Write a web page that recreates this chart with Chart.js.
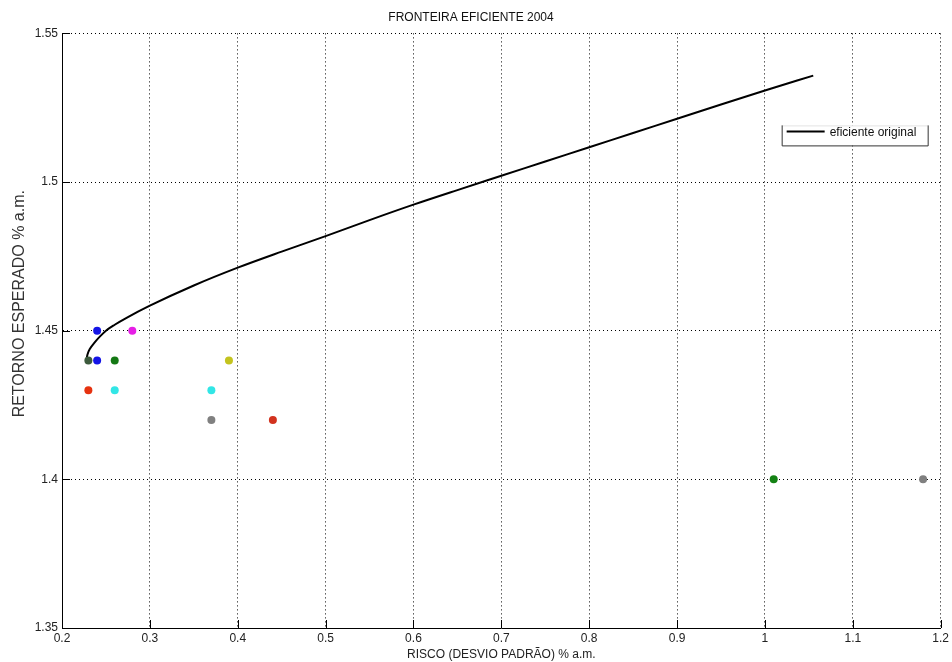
<!DOCTYPE html>
<html>
<head>
<meta charset="utf-8">
<title>Fronteira eficiente 2004</title>
<script src="https://cdn.jsdelivr.net/npm/chart.js@4.4.1/dist/chart.umd.min.js"></script>
<style>
    html, body { margin: 0; padding: 0; background: #fff; }
    #wrap { width: 952px; height: 662px; position: relative; }
</style>
</head>
<body>
<div id="wrap"><canvas id="frontierChart"></canvas></div>
<script>
// efficient frontier (risk, return)
const curveRisk   = [0.228, 0.229, 0.232, 0.237, 0.243, 0.250, 0.260, 0.274, 0.300, 0.350, 0.400, 0.450, 0.500, 0.550, 0.600, 0.650, 0.700, 0.750, 0.800, 0.850, 0.900, 0.950, 1.000, 1.055];
const curveReturn = [1.4405, 1.4420, 1.4440, 1.4460, 1.4480, 1.4500, 1.4520, 1.4544, 1.4584, 1.4652, 1.4712, 1.4766, 1.4818, 1.4872, 1.4924, 1.4973, 1.5021, 1.5069, 1.5117, 1.5165, 1.5213, 1.5261, 1.5308, 1.5358];

// individual assets
const assetRisk   = [0.24, 0.28, 0.24, 0.26, 0.39, 0.23, 0.26, 0.37, 0.37, 0.44, 1.01, 1.18, 0.23];
const assetReturn = [1.45, 1.45, 1.44, 1.44, 1.44, 1.43, 1.43, 1.43, 1.42, 1.42, 1.40, 1.40, 1.44];
const assetColors = ['#1414e6', '#e61ee6', '#1414e6', '#147814', '#c3c31e', '#e6320f', '#32e6e6', '#32e6e6', '#808080', '#d2321e', '#148214', '#808080', '#3c5a3c'];

// axis ticks
const xTicks = [0.2, 0.3, 0.4, 0.5, 0.6, 0.7, 0.8, 0.9, 1.0, 1.1, 1.2];
const yTicks = [1.35, 1.4, 1.45, 1.5, 1.55];

const FONT = 'Liberation Sans, Arial, Helvetica, sans-serif';
const Y_TITLE = 'RETORNO ESPERADO % a.m.';

// MATLAB style: ticks pointing into the plot
const innerTicks = {
    id: 'innerTicks',
    afterDatasetsDraw(chart) {
        const ctx = chart.ctx;
        const area = chart.chartArea;
        const x = chart.scales.x;
        const y = chart.scales.y;
        ctx.save();
        ctx.strokeStyle = '#000';
        ctx.lineWidth = 1;
        ctx.beginPath();
        xTicks.forEach(v => {
            const px = Math.round(x.getPixelForValue(v)) + 0.5;
            ctx.moveTo(px, area.bottom);
            ctx.lineTo(px, area.bottom - 8);
        });
        yTicks.forEach(v => {
            const py = Math.round(y.getPixelForValue(v)) + 0.5;
            ctx.moveTo(area.left, py);
            ctx.lineTo(area.left + 8, py);
        });
        ctx.stroke();
        ctx.restore();
    }
};

// y axis title sits a bit above the middle in the original
const yTitle = {
    id: 'yTitle',
    afterDraw(chart) {
        const ctx = chart.ctx;
        const area = chart.chartArea;
        ctx.save();
        ctx.translate(20, (area.top + area.bottom) / 2 - 27);
        ctx.rotate(-Math.PI / 2);
        ctx.fillStyle = '#333';
        ctx.font = '16px ' + FONT;
        ctx.textAlign = 'center';
        ctx.textBaseline = 'middle';
        ctx.fillText(Y_TITLE, 0, 0);
        ctx.restore();
    }
};

// legend box in the upper right corner
const legendBox = {
    id: 'legendBox',
    afterDraw(chart) {
        const ctx = chart.ctx;
        const area = chart.chartArea;
        const right = area.right - 13;
        const left = right - 146;
        const top = area.top + 92;
        const bottom = top + 20;
        ctx.save();
        ctx.fillStyle = '#fff';
        ctx.fillRect(left, top, right - left, bottom - top);
        ctx.strokeStyle = '#e4e4e4';
        ctx.lineWidth = 1;
        ctx.beginPath();
        ctx.moveTo(left, top + 0.5);
        ctx.lineTo(right, top + 0.5);
        ctx.stroke();
        ctx.strokeStyle = '#333';
        ctx.beginPath();
        ctx.moveTo(left + 0.5, top);
        ctx.lineTo(left + 0.5, bottom + 0.5);
        ctx.lineTo(right + 0.5, bottom + 0.5);
        ctx.lineTo(right + 0.5, top);
        ctx.stroke();
        ctx.strokeStyle = '#000';
        ctx.lineWidth = 2;
        ctx.beginPath();
        ctx.moveTo(left + 5, top + 6);
        ctx.lineTo(left + 43, top + 6);
        ctx.stroke();
        ctx.fillStyle = '#111';
        ctx.font = '12px ' + FONT;
        ctx.textBaseline = 'middle';
        ctx.fillText(chart.data.datasets[0].label, left + 48, top + 7);
        ctx.restore();
    }
};

const ctx = document.getElementById('frontierChart').getContext('2d');

new Chart(ctx, {
    type: 'scatter',
    data: {
        datasets: [
            {
                label: 'eficiente original',
                data: curveRisk.map((r, i) => ({ x: r, y: curveReturn[i] })),
                showLine: true,
                borderColor: '#000',
                borderWidth: 2,
                pointRadius: 0,
                cubicInterpolationMode: 'monotone',
                order: 2
            },
            {
                label: 'ativos',
                data: assetRisk.map((r, i) => ({ x: r, y: assetReturn[i] })),
                pointBackgroundColor: assetColors,
                pointBorderColor: assetColors,
                pointRadius: 4,
                pointBorderWidth: 0,
                order: 1
            }
        ]
    },
    options: {
        responsive: true,
        maintainAspectRatio: false,
        animation: false,
        layout: { padding: { top: 0, right: 10, left: 0, bottom: 0 } },
        plugins: {
            legend: { display: false },
            tooltip: { enabled: false },
            title: {
                display: true,
                text: 'FRONTEIRA EFICIENTE 2004',
                color: '#111',
                font: { family: FONT, size: 12, weight: 'normal' },
                padding: { top: 10, bottom: 9 }
            }
        },
        scales: {
            x: {
                type: 'linear',
                min: 0.2,
                max: 1.2,
                afterBuildTicks: scale => { scale.ticks = xTicks.map(v => ({ value: v })); },
                afterFit: scale => { scale.height = 34; },
                ticks: {
                    color: '#222',
                    font: { family: FONT, size: 12 },
                    padding: 3,
                    maxRotation: 0,
                    autoSkip: false,
                    callback: v => String(+v.toFixed(2))
                },
                grid: { color: '#000', lineWidth: 1, drawTicks: false },
                border: { display: true, color: '#000', width: 1, dash: [1, 3] },
                title: {
                    display: true,
                    text: 'RISCO (DESVIO PADRÃO) % a.m.',
                    color: '#222',
                    font: { family: FONT, size: 12 },
                    padding: { top: 0, bottom: 0 }
                }
            },
            y: {
                type: 'linear',
                min: 1.35,
                max: 1.55,
                afterBuildTicks: scale => { scale.ticks = yTicks.map(v => ({ value: v })); },
                afterFit: scale => { scale.width = 62; },
                ticks: {
                    color: '#222',
                    font: { family: FONT, size: 12 },
                    padding: 4,
                    autoSkip: false,
                    callback: v => String(+v.toFixed(2))
                },
                grid: { color: '#000', lineWidth: 1, drawTicks: false },
                border: { display: true, color: '#000', width: 1, dash: [1, 3] }
            }
        }
    },
    plugins: [innerTicks, yTitle, legendBox]
});
</script>
</body>
</html>
